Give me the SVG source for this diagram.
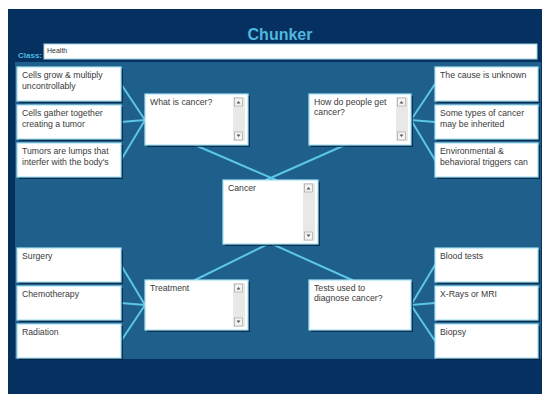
<svg xmlns="http://www.w3.org/2000/svg" width="542" height="394" viewBox="0 0 542 394">
<style>
.bx{fill:#ffffff;stroke:#a6e2f4;stroke-width:1.2}
.sh{fill:#061f3a;opacity:0.75}
.t{font-family:"Liberation Sans",Arial,sans-serif;font-size:8.7px;fill:#3a3a3a}
.cn line{stroke:#5cc6e8;stroke-width:2;stroke-linecap:round}
.sb{fill:#e8e8e8}
.btn{fill:#f4f4f4;stroke:#9a9a9a;stroke-width:0.6}
.ar{fill:#555}
</style>
<defs>
<g id="scroll">
<rect class="sb" x="0" y="0" width="12" height="44"/>
<rect class="btn" x="1.5" y="1" width="8" height="8"/>
<polygon class="ar" points="3.5,6.5 7.5,6.5 5.5,4"/>
<rect class="btn" x="1.5" y="35" width="8" height="8"/>
<polygon class="ar" points="3.5,37.5 7.5,37.5 5.5,40"/>
</g>
</defs>
<rect x="0" y="0" width="542" height="394" fill="#ffffff"/>
<rect x="8" y="9" width="534" height="385" fill="#06305f"/>
<rect x="15" y="62" width="526" height="297" fill="#1e5f8c"/>
<text x="280" y="40" text-anchor="middle" font-family="Liberation Sans,Arial,sans-serif" font-size="16" font-weight="bold" fill="#4fb8de">Chunker</text>
<text x="18" y="58" font-family="Liberation Sans,Arial,sans-serif" font-size="8" font-weight="bold" fill="#4fb8de">Class:</text>
<rect x="44" y="44" width="493" height="15" fill="#ffffff" stroke="#9fd6ea" stroke-width="1"/>
<text x="47" y="53" font-family="Liberation Sans,Arial,sans-serif" font-size="7" fill="#333">Health</text>

<g id="connectors" class="cn">
<line x1="121" y1="84" x2="145" y2="120"/>
<line x1="121" y1="122" x2="145" y2="120"/>
<line x1="121" y1="160" x2="145" y2="120"/>
<line x1="435" y1="84" x2="411" y2="120"/>
<line x1="435" y1="122" x2="411" y2="120"/>
<line x1="435" y1="160" x2="411" y2="120"/>
<line x1="195" y1="145" x2="276" y2="180"/>
<line x1="345" y1="145" x2="266" y2="180"/>
<line x1="268" y1="244" x2="195" y2="280"/>
<line x1="272" y1="244" x2="352" y2="280"/>
<line x1="121" y1="265" x2="145" y2="305"/>
<line x1="121" y1="303" x2="145" y2="305"/>
<line x1="121" y1="341" x2="145" y2="305"/>
<line x1="435" y1="265" x2="411" y2="305"/>
<line x1="435" y1="303" x2="411" y2="305"/>
<line x1="435" y1="341" x2="411" y2="305"/>
</g>

<g id="n-cells-grow"><rect class="sh" x="19" y="69" width="104" height="34"/><rect class="bx" x="17" y="67" width="104" height="34"/><text class="t" x="22" y="78">Cells grow &amp; multiply</text><text class="t" x="22" y="89">uncontrollably</text></g>
<g id="n-cells-gather"><rect class="sh" x="19" y="107" width="104" height="34"/><rect class="bx" x="17" y="105" width="104" height="34"/><text class="t" x="22" y="116">Cells gather together</text><text class="t" x="22" y="127">creating a tumor</text></g>
<g id="n-tumors"><rect class="sh" x="19" y="145" width="104" height="34"/><rect class="bx" x="17" y="143" width="104" height="34"/><text class="t" x="22" y="154">Tumors are lumps that</text><text class="t" x="22" y="165">interfer with the body's</text></g>

<g id="n-cause"><rect class="sh" x="437" y="69" width="103" height="34"/><rect class="bx" x="435" y="67" width="103" height="34"/><text class="t" x="440" y="78">The cause is unknown</text></g>
<g id="n-inherited"><rect class="sh" x="437" y="107" width="103" height="34"/><rect class="bx" x="435" y="105" width="103" height="34"/><text class="t" x="440" y="116">Some types of cancer</text><text class="t" x="440" y="127">may be inherited</text></g>
<g id="n-environmental"><rect class="sh" x="437" y="145" width="103" height="34"/><rect class="bx" x="435" y="143" width="103" height="34"/><text class="t" x="440" y="154">Environmental &amp;</text><text class="t" x="440" y="165">behavioral triggers can</text></g>

<g id="n-what"><rect class="sh" x="147" y="96" width="103" height="51"/><rect class="bx" x="145" y="94" width="103" height="51"/><use href="#scroll" x="233" y="97"/><text class="t" x="150" y="105">What is cancer?</text></g>
<g id="n-how"><rect class="sh" x="311" y="96" width="102" height="51"/><rect class="bx" x="309" y="94" width="102" height="51"/><use href="#scroll" x="396" y="97"/><text class="t" x="314" y="105">How do people get</text><text class="t" x="314" y="115">cancer?</text></g>

<g id="n-cancer"><rect class="sh" x="225" y="182" width="95" height="64"/><rect class="bx" x="223" y="180" width="95" height="64"/><rect class="sb" x="303" y="183" width="12" height="58"/><rect class="btn" x="304.5" y="184" width="8" height="8"/><polygon class="ar" points="306.5,189.5 310.5,189.5 308.5,187"/><rect class="btn" x="304.5" y="232" width="8" height="8"/><polygon class="ar" points="306.5,234.5 310.5,234.5 308.5,237"/><text class="t" x="228" y="191">Cancer</text></g>

<g id="n-surgery"><rect class="sh" x="19" y="250" width="104" height="34"/><rect class="bx" x="17" y="248" width="104" height="34"/><text class="t" x="22" y="259">Surgery</text></g>
<g id="n-chemo"><rect class="sh" x="19" y="288" width="104" height="34"/><rect class="bx" x="17" y="286" width="104" height="34"/><text class="t" x="22" y="297">Chemotherapy</text></g>
<g id="n-radiation"><rect class="sh" x="19" y="326" width="104" height="34"/><rect class="bx" x="17" y="324" width="104" height="34"/><text class="t" x="22" y="335">Radiation</text></g>

<g id="n-treatment"><rect class="sh" x="147" y="282" width="103" height="50"/><rect class="bx" x="145" y="280" width="103" height="50"/><use href="#scroll" x="233" y="283"/><text class="t" x="150" y="291">Treatment</text></g>
<g id="n-tests"><rect class="sh" x="311" y="282" width="102" height="50"/><rect class="bx" x="309" y="280" width="102" height="50"/><text class="t" x="314" y="291">Tests used to</text><text class="t" x="314" y="301">diagnose cancer?</text></g>

<g id="n-blood"><rect class="sh" x="437" y="250" width="103" height="34"/><rect class="bx" x="435" y="248" width="103" height="34"/><text class="t" x="440" y="259">Blood tests</text></g>
<g id="n-xray"><rect class="sh" x="437" y="288" width="103" height="34"/><rect class="bx" x="435" y="286" width="103" height="34"/><text class="t" x="440" y="297">X-Rays or MRI</text></g>
<g id="n-biopsy"><rect class="sh" x="437" y="326" width="103" height="34"/><rect class="bx" x="435" y="324" width="103" height="34"/><text class="t" x="440" y="335">Biopsy</text></g>
</svg>
